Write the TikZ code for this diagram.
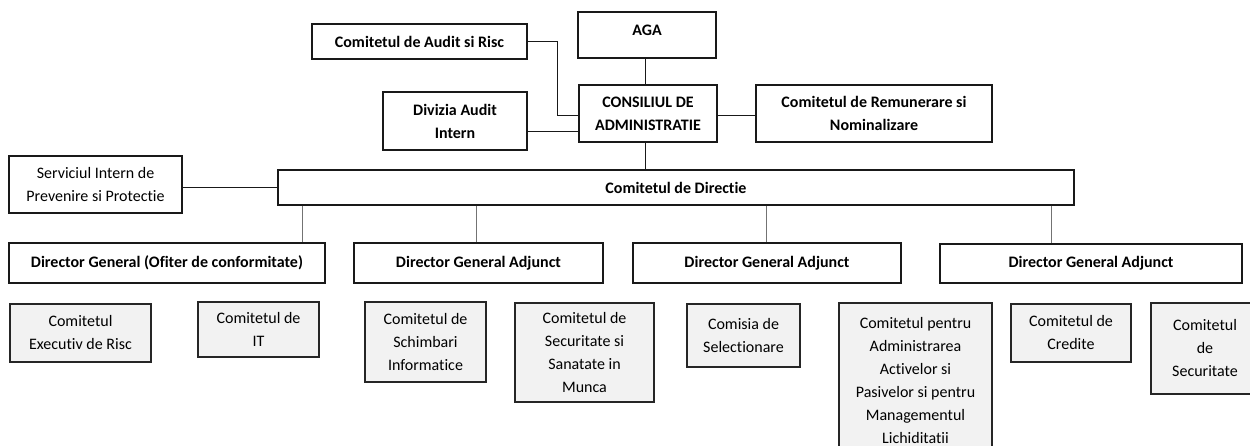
\documentclass[tikz,border=0pt]{standalone}
\usepackage{fontspec}
\setmainfont{Carlito}[Ligatures={NoCommon}]
\usetikzlibrary{calc}
\definecolor{boxgrey}{RGB}{242,242,242}
\tikzset{
  topbox/.style={draw=black!90, line width=1.2pt, align=center, inner sep=0pt,
    font=\fontsize{16}{23}\selectfont\bfseries},
  plainbox/.style={draw=black!90, line width=1.2pt, align=center, inner sep=0pt,
    font=\fontsize{16}{22.5}\selectfont},
  greybox/.style={draw=black!85, line width=1.2pt, fill=boxgrey, align=center, inner sep=0pt,
    font=\fontsize{16}{23}\selectfont},
  conn/.style={draw=black!90, line width=0.9pt},
  thinconn/.style={draw=black!55, line width=0.8pt},
}
\newcommand{\bx}[6]{\node[#1, minimum width={#4-#2}, minimum height={#5-#3}] (#6) at ({(#2+#4)/2},{(#3+#5)/2})}
\begin{document}
\begin{tikzpicture}[x=1pt,y=-1pt]
\useasboundingbox (0,0) rectangle (1250,446);
\clip (0,0) rectangle (1250,446);
% top level
\bx{topbox}{312}{24}{527}{59}{ar} {Comitetul de Audit si Risc};
\bx{topbox,text height=11pt,text depth=10pt}{578}{12}{716}{58}{aga} {AGA};
\bx{topbox}{383}{92}{527}{150}{div} {Divizia Audit\\Intern};
\bx{topbox}{579}{85}{717}{142}{ca} {CONSILIUL DE\\ADMINISTRATIE};
\bx{topbox}{756}{85}{992}{142}{rem} {Comitetul de Remunerare si\\Nominalizare};
\bx{topbox}{278}{170}{1074}{205}{dir} {Comitetul de Directie};
\bx{plainbox}{9}{156}{182}{213}{sip} {Serviciul Intern de\\Prevenire si Protectie};
% directors
\bx{topbox}{9}{243}{325}{283}{dg} {Director General (Ofiter de conformitate)};
\bx{topbox}{354}{243}{603}{283}{dga1} {Director General Adjunct};
\bx{topbox}{633}{243}{901}{283}{dga2} {Director General Adjunct};
\bx{topbox}{940}{244}{1242}{283}{dga3} {Director General Adjunct};
% committees
\bx{greybox}{10}{304}{151}{362}{c1} {Comitetul\\Executiv de Risc};
\bx{greybox}{198}{302}{319}{357}{c2} {Comitetul de\\IT};
\bx{greybox}{365}{302}{486}{382}{c3} {Comitetul de\\Schimbari\\Informatice};
\bx{greybox}{515}{303}{654}{402}{c4} {Comitetul de\\Securitate si\\Sanatate in\\Munca};
\bx{greybox}{687}{304}{800}{367}{c5} {Comisia de\\Selectionare};
\bx{greybox}{839}{303}{992}{458}{c6} {Comitetul pentru\\Administrarea\\Activelor si\\Pasivelor si pentru\\Managementul\\Lichiditatii};
\bx{greybox}{1011}{304}{1131}{362}{c7} {Comitetul de\\Credite};
\bx{greybox}{1151}{303}{1259}{394}{c8} {Comitetul\\de\\Securitate};
% connector helper coordinates
\coordinate (jar) at (557,0);
\coordinate (jca) at (0,115);
\coordinate (jdiv) at (0,131);
\coordinate (jv) at (645,0);
\coordinate (t1) at (302,0);
\coordinate (t2) at (476,0);
\coordinate (t3) at (766,0);
\coordinate (t4) at (1051,0);
% connectors
\draw[conn] (ar.east) -- (ar.east -| jar) -- (jar |- jca) -- (ca.west |- jca);
\draw[conn] (div.east |- jdiv) -- (ca.west |- jdiv);
\draw[conn] (aga.south -| jv) -- (ca.north -| jv);
\draw[conn] (ca.east |- jca) -- (rem.west |- jca);
\draw[conn] (ca.south -| jv) -- (dir.north -| jv);
\draw[conn] (sip.east |- dir.west) -- (dir.west);
\draw[thinconn] (dir.south -| t1) -- (dg.north -| t1);
\draw[thinconn] (dir.south -| t2) -- (dga1.north -| t2);
\draw[thinconn] (dir.south -| t3) -- (dga2.north -| t3);
\draw[thinconn] (dir.south -| t4) -- (dga3.north -| t4);
\end{tikzpicture}
\end{document}
